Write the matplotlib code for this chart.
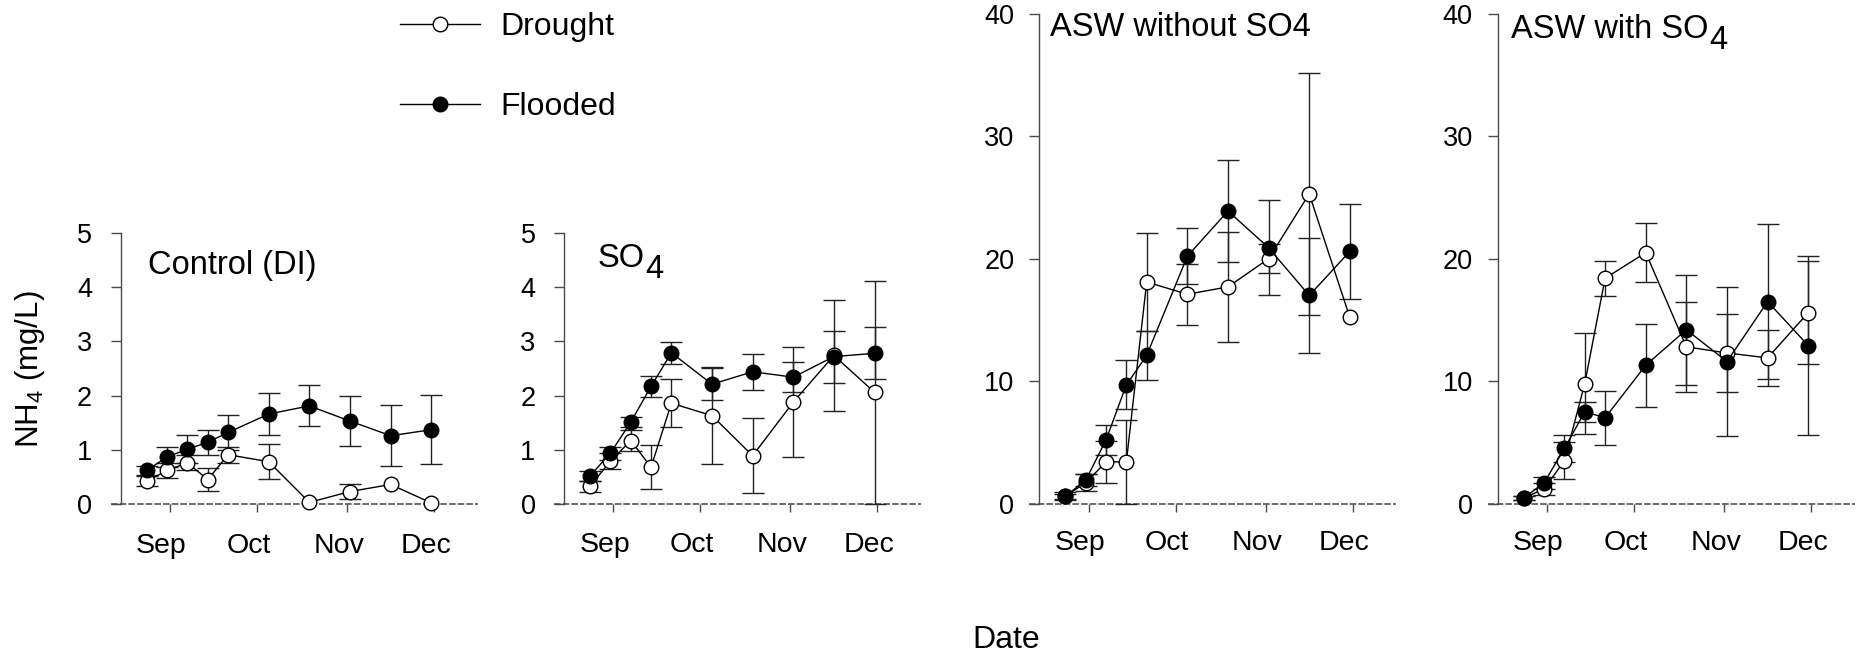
import numpy as np
import matplotlib
matplotlib.use('Agg')
import matplotlib.pyplot as plt
import matplotlib.dates as mdates
from matplotlib.transforms import ScaledTranslation
from matplotlib.lines import Line2D

plt.rcParams['font.family'] = ['Liberation Sans', 'DejaVu Sans']
plt.rcParams['mathtext.fontset'] = 'custom'
plt.rcParams['mathtext.rm'] = 'Liberation Sans'
plt.rcParams['mathtext.it'] = 'Liberation Sans:italic'
plt.rcParams['mathtext.bf'] = 'Liberation Sans:bold'

# sampling dates
dates = np.array(['2013-08-24', '2013-08-31', '2013-09-07', '2013-09-14', '2013-09-21',
                  '2013-10-05', '2013-10-19', '2013-11-02', '2013-11-16', '2013-11-30'],
                 dtype='datetime64[D]')

# panel titles: (text, subscript)
titles = [('Control (DI)', ''), ('SO', '4'), ('ASW without SO4', ''), ('ASW with SO', '4')]

nan = np.nan

# Control (DI)
control_drought = [0.42, 0.62, 0.76, 0.45, 0.91, 0.78, 0.03, 0.23, 0.36, 0.02]
control_drought_err = [0.09, 0.14, 0.14, 0.21, 0.15, 0.32, nan, 0.13, nan, nan]
control_flooded = [0.62, 0.87, 1.01, 1.14, 1.32, 1.66, 1.81, 1.53, 1.26, 1.37]
control_flooded_err = [0.08, 0.18, 0.26, 0.23, 0.33, 0.39, 0.38, 0.46, 0.56, 0.64]

# SO4
so4_drought = [0.33, 0.79, 1.17, 0.68, 1.86, 1.63, 0.89, 1.88, 2.74, 2.06]
so4_drought_err = [0.10, 0.15, 0.19, 0.40, 0.44, 0.89, 0.69, 1.02, 1.02, 2.06]
so4_flooded = [0.52, 0.94, 1.51, 2.17, 2.79, 2.21, 2.44, 2.34, 2.72, 2.78]
so4_flooded_err = [0.09, 0.12, 0.09, 0.20, 0.20, 0.30, 0.33, 0.28, 0.48, 0.48]

# ASW without SO4
asw_drought = [0.6, 1.7, 3.4, 3.4, 18.1, 17.1, 17.7, 20.0, 25.3, 15.2]
asw_drought_err = [0.2, 0.7, 1.7, 3.4, 4.0, 2.5, 4.5, 1.2, 9.9, nan]
asw_flooded = [0.6, 1.9, 5.2, 9.7, 12.1, 20.2, 23.9, 20.9, 17.0, 20.6]
asw_flooded_err = [0.3, 0.5, 1.2, 2.0, 2.0, 2.3, 4.2, 3.9, 4.7, 3.9]

# ASW with SO4
asws_drought = [0.45, 1.2, 3.5, 9.8, 18.4, 20.5, 12.8, 12.3, 11.9, 15.6]
asws_drought_err = [0.2, 0.5, 1.5, 4.1, 1.45, 2.4, 3.7, 3.2, 2.3, 4.2]
asws_flooded = [0.45, 1.7, 4.5, 7.5, 7.0, 11.3, 14.2, 11.6, 16.5, 12.9]
asws_flooded_err = [0.2, 0.5, 1.1, 0.8, 2.2, 3.4, 4.5, 6.1, 6.3, 7.3]

drought = [control_drought, so4_drought, asw_drought, asws_drought]
drought_err = [control_drought_err, so4_drought_err, asw_drought_err, asws_drought_err]
flooded = [control_flooded, so4_flooded, asw_flooded, asws_flooded]
flooded_err = [control_flooded_err, so4_flooded_err, asw_flooded_err, asws_flooded_err]

W, H = 1863, 655
fig = plt.figure(figsize=(W / 100, H / 100), dpi=100)

# axes placement in pixels: (y-axis x, top y, bottom y)
ax_px = [(120.7, 233, 504), (564, 233, 504), (1039.3, 14, 503.5), (1497.7, 14, 503.5)]
ax_w = 357
ylims = [5, 5, 40, 40]
ysteps = [1, 1, 10, 10]
ypads = [13, 13, 10.5, 10.5]
xpads = [15, 14, 13, 13]
title_pos = [(0.0765, 0.849), (0.095, 0.876), (0.030, 0.955), (0.037, 0.951)]
title_size = 23.5

xmin = np.datetime64('2013-08-15')
xmax = np.datetime64('2013-12-16')
axcol = '#4a4a4a'

for i in range(4):
    x0, top, bot = ax_px[i]
    ax = fig.add_axes([x0 / W, 1 - bot / H, ax_w / W, (bot - top) / H])
    ax.set_xlim(xmin, xmax)
    ax.set_ylim(0, ylims[i])
    ax.set_yticks(np.arange(0, ylims[i] + 1, ysteps[i]))
    ax.xaxis.set_major_locator(mdates.MonthLocator(bymonth=[9, 10, 11, 12]))
    ax.xaxis.set_major_formatter(mdates.DateFormatter('%b'))
    for s in ['top', 'right', 'bottom']:
        ax.spines[s].set_visible(False)
    ax.spines['left'].set_color(axcol)
    ax.spines['left'].set_linewidth(1.0)
    ax.tick_params(axis='y', direction='out', length=7.5, width=1.0, color=axcol,
                   labelsize=19.5, pad=ypads[i])
    ax.tick_params(axis='x', direction='out', length=6, width=1.0, color=axcol,
                   labelsize=20.5, pad=xpads[i])
    ax.axhline(0, xmin=-10 / ax_w, xmax=1, color='#555555', lw=1.2,
               ls=(0, (4.0, 1.2)), clip_on=False, zorder=1)
    off = ScaledTranslation(-8.5 / 100, 0, fig.dpi_scale_trans)
    for lab in ax.get_xticklabels():
        lab.set_transform(lab.get_transform() + off)

    for vals, errs, face in [(drought[i], drought_err[i], 'white'),
                             (flooded[i], flooded_err[i], 'black')]:
        cont = ax.errorbar(dates, vals, yerr=errs, fmt='o-', color='black', lw=1.0,
                           ms=10.5, mfc=face, mec='black', mew=1.0,
                           ecolor='#222222', elinewidth=1.0, capsize=8, capthick=1.0,
                           zorder=3)
        for art in cont.get_children():
            art.set_clip_on(False)

    main, sub = titles[i]
    t = ax.text(title_pos[i][0], title_pos[i][1], main, transform=ax.transAxes,
                fontsize=title_size, ha='left', va='baseline')
    if sub:
        ax.annotate(sub, xy=(1, 0), xycoords=t, xytext=(0.5, -8),
                    textcoords='offset points', fontsize=title_size,
                    ha='left', va='bottom')

fig.text(30 / W, 1 - 369 / H, 'NH$_4$ (mg/L)', rotation=90, fontsize=22.5,
         ha='center', va='center')
fig.text(1005.8 / W, 1 - 648.3 / H, 'Date', fontsize=23, ha='center', va='baseline')

handles = [Line2D([], [], color='black', lw=1.0, marker='o', ms=10.5, mfc='white', mec='black'),
           Line2D([], [], color='black', lw=1.0, marker='o', ms=10.5, mfc='black', mec='black')]
fig.legend(handles, ['Drought', 'Flooded'], loc='upper left',
           bbox_to_anchor=(400 / W, 1 - 12 / H), frameon=False, fontsize=23,
           handlelength=2.5, handletextpad=0.63, labelspacing=1.58,
           borderpad=0, borderaxespad=0, numpoints=1)

fig.savefig('out.png', dpi=100)
